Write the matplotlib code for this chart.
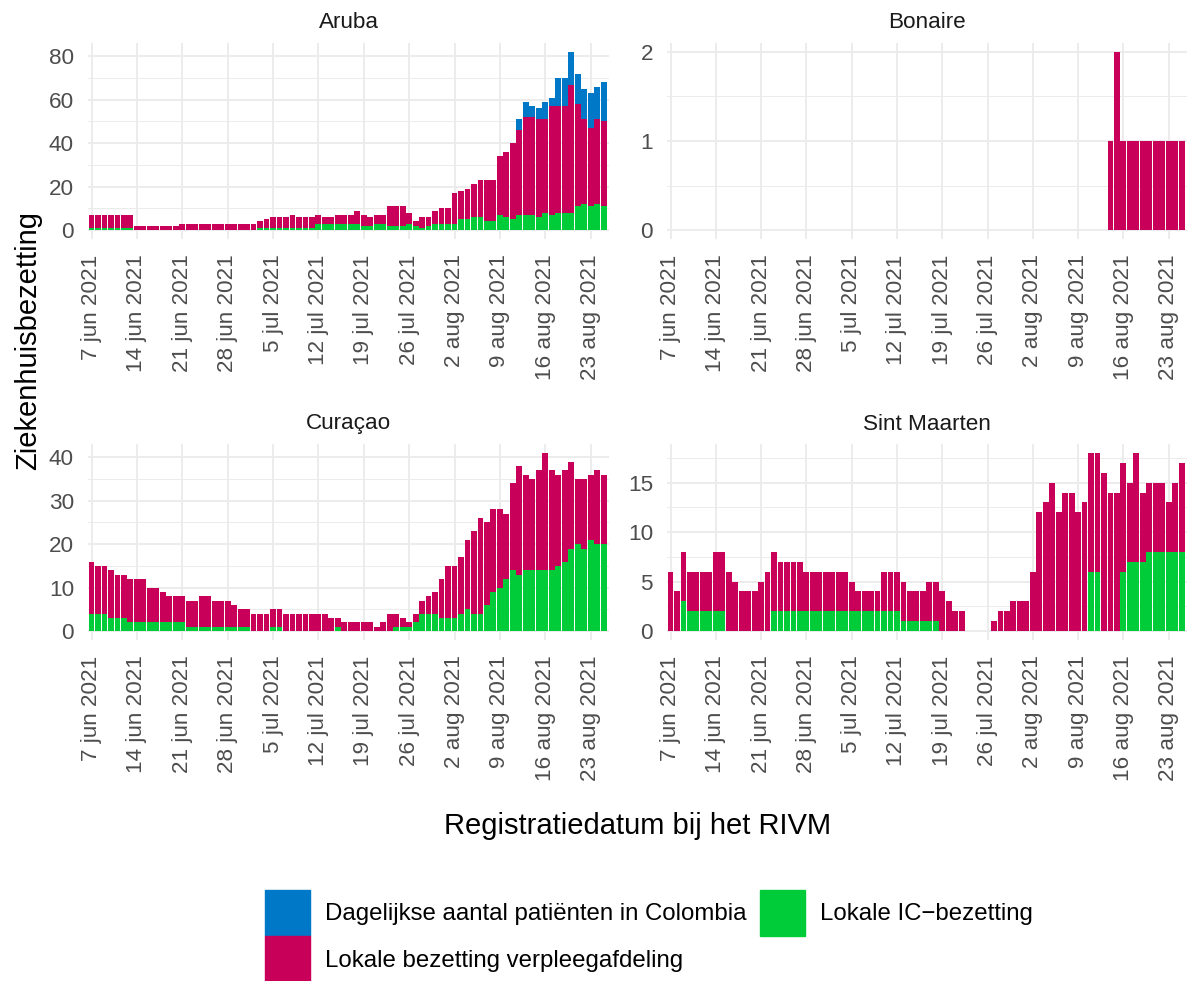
import matplotlib.pyplot as plt
import pandas as pd
from matplotlib.patches import Patch

plt.rcParams['font.family'] = ['Liberation Sans', 'DejaVu Sans']

# 80 dagen: 7 jun 2021 t/m 25 aug 2021
datums = pd.date_range('2021-06-07', periods=80, freq='D')
maanden = {6: 'jun', 7: 'jul', 8: 'aug'}

# Aruba
aruba_ic = [1, 1, 1, 1, 1, 1, 1,  0, 0, 0, 0, 0, 0, 0,  0, 0, 0, 0, 0, 0, 0,
            0, 0, 0, 0, 0, 1, 1,  1, 1, 1, 1, 1, 1, 1,  3, 3, 3, 3, 3, 3, 3,
            2, 2, 3, 3, 2, 2, 2,  3, 2, 1, 2, 3, 3, 3,  3, 5, 5, 6, 6, 4, 4,
            7, 6, 5, 7, 7, 7, 6,  8, 7, 8, 8, 8, 11, 12,  11, 12, 11]
aruba_verpleeg = [6, 6, 6, 6, 6, 6, 6,  2, 2, 2, 2, 2, 2, 2,  3, 3, 3, 3, 3, 3, 3,
                  3, 3, 3, 3, 3, 3, 4,  5, 5, 5, 6, 5, 5, 5,  4, 3, 3, 4, 4, 4, 6,
                  5, 4, 4, 4, 9, 9, 9,  5, 2, 5, 4, 6, 7, 7,  14, 13, 14, 15, 17, 19, 19,
                  27, 30, 35, 39, 45, 45, 45,  43, 50, 49, 49, 59, 47, 39,  36, 39, 39]
aruba_colombia = [0] * 66 + [5, 7, 5, 5, 8, 4, 13, 13, 15, 14, 14, 16, 15, 18]

# Bonaire
bonaire_ic = [0] * 80
bonaire_verpleeg = [0] * 68 + [1, 2, 1, 1, 1, 1, 1, 1, 1, 1, 1, 1]

# Curaçao
curacao_ic = [4, 4, 4, 3, 3, 3, 2,  2, 2, 2, 2, 2, 2, 2,  2, 1, 1, 1, 1, 1, 1,
              1, 1, 1, 1, 0, 0, 0,  1, 1, 0, 0, 0, 0, 0,  0, 0, 0, 1, 0, 0, 0,
              0, 0, 0, 0, 0, 1, 1,  1, 2, 4, 4, 4, 3, 3,  3, 4, 5, 4, 4, 6, 9,
              10, 12, 14, 13, 14, 14, 14,  14, 14, 15, 16, 19, 20, 19,  21, 20, 20]
curacao_verpleeg = [12, 11, 11, 11, 10, 10, 10,  10, 10, 8, 8, 7, 6, 6,  6, 6, 6, 7, 7, 6, 6,
                    6, 5, 4, 4, 4, 4, 4,  4, 4, 4, 4, 4, 4, 4,  4, 4, 3, 2, 2, 2, 2,
                    2, 2, 1, 2, 4, 3, 2,  1, 2, 3, 4, 5, 9, 12,  12, 13, 16, 19, 22, 19, 19,
                    18, 15, 20, 25, 22, 21, 23,  27, 23, 21, 21, 20, 15, 16,  15, 17, 16]

# Sint Maarten
sxm_ic = [0, 0, 3, 2, 2, 2, 2,  2, 2, 0, 0, 0, 0, 0,  0, 0, 2, 2, 2, 2, 2,
          2, 2, 2, 2, 2, 2, 2,  2, 2, 2, 2, 2, 2, 2,  2, 1, 1, 1, 1, 1, 1,
          0, 0, 0, 0, 0, 0, 0,  0, 0, 0, 0, 0, 0, 0,  0, 0, 0, 0, 0, 0, 0,
          0, 0, 6, 6, 0, 0, 0,  6, 7, 7, 7, 8, 8, 8,  8, 8, 8]
sxm_verpleeg = [6, 4, 5, 4, 4, 4, 4,  6, 6, 6, 5, 4, 4, 4,  5, 6, 6, 5, 5, 5, 5,
                4, 4, 4, 4, 4, 4, 4,  3, 2, 2, 2, 2, 4, 4,  4, 4, 3, 3, 3, 4, 4,
                4, 3, 2, 2, 0, 0, 0,  0, 1, 2, 2, 3, 3, 3,  6, 12, 13, 15, 12, 14, 14,
                12, 13, 12, 12, 16, 14, 14,  11, 8, 11, 7, 7, 7, 7,  5, 7, 9]

eilanden = ['Aruba', 'Bonaire', 'Curaçao', 'Sint Maarten']
data = {
    'Aruba': (aruba_ic, aruba_verpleeg, aruba_colombia),
    'Bonaire': (bonaire_ic, bonaire_verpleeg, [0] * 80),
    'Curaçao': (curacao_ic, curacao_verpleeg, [0] * 80),
    'Sint Maarten': (sxm_ic, sxm_verpleeg, [0] * 80),
}
y_major = {
    'Aruba': [0, 20, 40, 60, 80],
    'Bonaire': [0, 1, 2],
    'Curaçao': [0, 10, 20, 30, 40],
    'Sint Maarten': [0, 5, 10, 15],
}

kleur_colombia = '#0078C8'
kleur_verpleeg = '#C8005A'
kleur_ic = '#00CC3A'
grijs_grid = '#EBEBEB'

W, H = 1188, 981
fig = plt.figure(figsize=(W / 100, H / 100), dpi=100)

# panelen in pixels: links, boven, rechts, onder
panelen = {
    'Aruba': (88, 43, 609, 239),
    'Bonaire': (667, 43, 1187, 239),
    'Curaçao': (88, 444, 609, 640),
    'Sint Maarten': (667, 444, 1187, 640),
}

ticks = datums[::7]
ticklabels = [f"{d.day} {maanden[d.month]} {d.year}" for d in ticks]

for naam in eilanden:
    l, t, r, b = panelen[naam]
    ax = fig.add_axes([l / W, 1 - b / H, (r - l) / W, (b - t) / H])
    ic, verpleeg, colombia = [pd.Series(v, index=datums) for v in data[naam]]

    ax.bar(datums, ic, width=0.9, color=kleur_ic, linewidth=0)
    ax.bar(datums, verpleeg, width=0.9, bottom=ic, color=kleur_verpleeg, linewidth=0)
    ax.bar(datums, colombia, width=0.9, bottom=ic + verpleeg, color=kleur_colombia, linewidth=0)

    major = y_major[naam]
    stap = major[1] - major[0]
    ax.set_yticks(major)
    ax.set_yticks([m + stap / 2 for m in major], minor=True)
    ax.set_xticks(ticks)
    ax.set_xticklabels(ticklabels, rotation=90)

    # limieten na de ticks, anders rekken de minor ticks de as op
    totaal = (ic + verpleeg + colombia).max()
    ax.set_ylim(-0.05 * totaal, 1.05 * totaal)
    ax.set_xlim(datums[0] - pd.Timedelta(hours=13), datums[-1] + pd.Timedelta(hours=20))

    ax.tick_params(axis='both', which='both', length=0, labelsize=16.2, labelcolor='#4D4D4D')
    ax.tick_params(axis='x', pad=11)
    ax.tick_params(axis='y', pad=10)

    ax.set_axisbelow(True)
    ax.grid(which='major', color=grijs_grid, linewidth=1.3)
    ax.grid(which='minor', axis='y', color=grijs_grid, linewidth=0.7)
    for s in ax.spines.values():
        s.set_visible(False)

    ax.text(0.5, 1 + 20 / (b - t), naam, transform=ax.transAxes, ha='center', va='center',
            fontsize=16.2, color='#1A1A1A')

# astitels
fig.text(637.5 / W, 1 - 826 / H, 'Registratiedatum bij het RIVM', ha='center', va='center', fontsize=21)
fig.text(28 / W, 1 - 341 / H, 'Ziekenhuisbezetting', ha='center', va='center', rotation=90, fontsize=21)

# legenda
handles = [Patch(color=kleur_colombia), Patch(color=kleur_verpleeg), Patch(color=kleur_ic)]
labels = ['Dagelijkse aantal patiënten in Colombia', 'Lokale bezetting verpleegafdeling', 'Lokale IC\u2212bezetting']
fig.legend(handles, labels, ncol=2, loc='upper left', bbox_to_anchor=(265 / W, 1 - 890 / H),
           frameon=False, fontsize=17.3, handlelength=1.875, handleheight=2.58, labelspacing=0,
           handletextpad=0.63, columnspacing=0.55, borderpad=0, borderaxespad=0)

fig.savefig('out.png', dpi=100)
